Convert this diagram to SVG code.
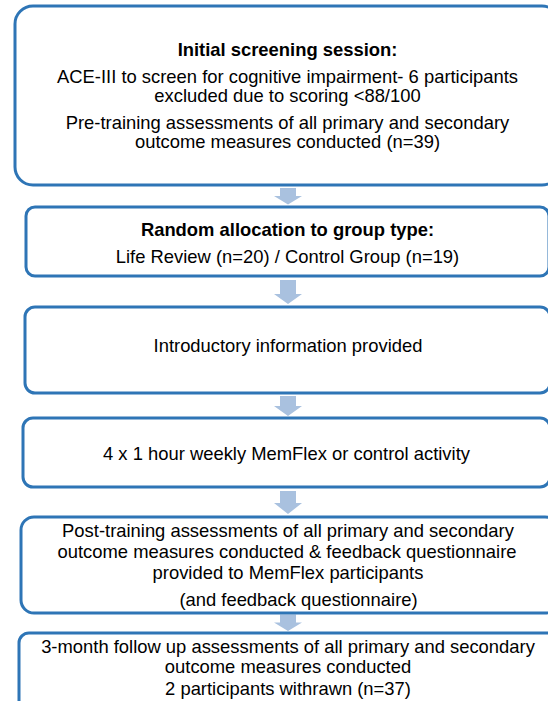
<svg xmlns="http://www.w3.org/2000/svg" width="548" height="701" viewBox="0 0 548 701">
<style>
.box{fill:#ffffff;stroke:#2E75B6;stroke-width:3}
.arr{fill:#A9C1DF}
text{font-family:"Liberation Sans",Arial,sans-serif;font-size:18.4px;fill:#000;text-anchor:middle}
.b{font-weight:bold}
</style>
<rect width="548" height="701" fill="#ffffff"/>
<g id="connectors">
<polygon class="arr" points="280,188 296,188 296,196 302,196 288,204.5 274,196 280,196"/>
<polygon class="arr" points="280,280 296,280 296,294 302,294 288,304 274,294 280,294"/>
<polygon class="arr" points="280,396 296,396 296,406 302,406 288,416 274,406 280,406"/>
<polygon class="arr" points="280,491 296,491 296,503 302,503 288,514 274,503 280,503"/>
<polygon class="arr" points="280,614.5 296,614.5 296,622.5 302,622.5 288,631 274,622.5 280,622.5"/>
</g>
<g id="n1">
<rect class="box" x="15" y="6" width="545" height="179" rx="18"/>
<text class="b" x="287.5" y="56">Initial screening session:</text>
<text x="287.5" y="82.5">ACE-III to screen for cognitive impairment- 6 participants</text>
<text x="287.5" y="101.5">excluded due to scoring &lt;88/100</text>
<text x="287.5" y="128.5">Pre-training assessments of all primary and secondary</text>
<text x="287.5" y="147.5">outcome measures conducted (n=39)</text>
</g>
<g id="n2">
<rect class="box" x="26" y="207" width="523" height="69" rx="9"/>
<text class="b" x="287.5" y="235.5">Random allocation to group type:</text>
<text x="287.5" y="263">Life Review (n=20) / Control Group (n=19)</text>
</g>
<g id="n3">
<rect class="box" x="25" y="307" width="525" height="86" rx="10"/>
<text x="288" y="352">Introductory information provided</text>
</g>
<g id="n4">
<rect class="box" x="23" y="418" width="527" height="69" rx="10"/>
<text x="286.5" y="459.5">4 x 1 hour weekly MemFlex or control activity</text>
</g>
<g id="n5">
<rect class="box" x="21" y="517" width="537" height="96" rx="13"/>
<text x="288" y="536.5">Post-training assessments of all primary and secondary</text>
<text x="287" y="557.5">outcome measures conducted &amp; feedback questionnaire</text>
<text x="288" y="578.5">provided to MemFlex participants</text>
<text x="298.5" y="606">(and feedback questionnaire)</text>
</g>
<g id="n6">
<rect class="box" x="19" y="633" width="541" height="90" rx="10"/>
<text x="288" y="653">3-month follow up assessments of all primary and secondary</text>
<text x="288" y="672.5">outcome measures conducted</text>
<text x="288" y="694.5">2 participants withrawn (n=37)</text>
</g>
</svg>
